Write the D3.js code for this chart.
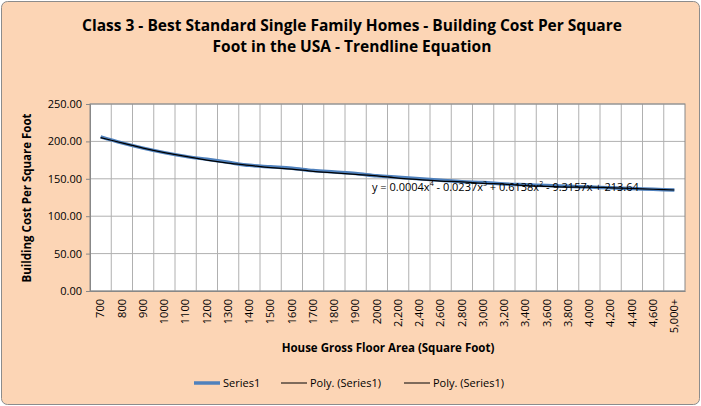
<!DOCTYPE html>
<html><head><meta charset="utf-8">
<script src="https://cdn.jsdelivr.net/npm/d3@7"></script>
<style>body{margin:0;background:#fff}text{font-family:"Open Sans",sans-serif}</style>
</head><body>
<script>
const categories = ["700","800","900","1000","1100","1200","1300","1400","1500","1600","1700","1800","1900","2000",
  "2,200","2,400","2,600","2,800","3,000","3,200","3,400","3,600","3,800","4,000","4,200","4,400","4,600","5,000+"];
const series1 = [206,198,191,185,180,176,172,168,166,164,161,159,157,154,152,150,148,146,145,143,142,141,140,139,138,137,136,135];
const trend = [205,198,191,185,180,175,171,168,165,163,160,158,156,154,151,149,147,146,144,143,141,140,139,139,138,137,136,135];
const yTicks = [0,50,100,150,200,250];

const W = 701, H = 406, m = {l:90, r:685, t:104, b:291};
const svg = d3.select("body").append("svg").attr("width", W).attr("height", H);
svg.append("rect").attr("x",1.5).attr("y",1.5).attr("width",W-3).attr("height",H-3)
  .attr("rx",6).attr("fill","#FCD5B5").attr("stroke","#8c8c8c");

svg.append("text").attr("x",352).attr("y",31).attr("text-anchor","middle")
  .attr("font-size",15.5).attr("font-weight","bold").text("Class 3 - Best Standard Single Family Homes  - Building Cost Per Square");
svg.append("text").attr("x",352).attr("y",52).attr("text-anchor","middle")
  .attr("font-size",15.5).attr("font-weight","bold").text("Foot in the USA - Trendline Equation");

const x = d3.scaleBand().domain(categories).range([m.l, m.r]);
const y = d3.scaleLinear().domain([0,250]).range([m.b, m.t]);

svg.append("rect").attr("x",m.l).attr("y",m.t).attr("width",m.r-m.l).attr("height",m.b-m.t).attr("fill","#fff");
const g = svg.append("g");
categories.forEach((c,i) => {
  if (i > 0) g.append("line").attr("x1",x(c)).attr("x2",x(c)).attr("y1",m.t).attr("y2",m.b).attr("stroke","#b0b0b0");
});
yTicks.forEach(t => g.append("line").attr("x1",m.l).attr("x2",m.r).attr("y1",y(t)).attr("y2",y(t)).attr("stroke","#b0b0b0"));
svg.append("rect").attr("x",m.l).attr("y",m.t).attr("width",m.r-m.l).attr("height",m.b-m.t)
  .attr("fill","none").attr("stroke","#888");

const ya = svg.append("g").attr("transform",`translate(${m.l},0)`)
  .call(d3.axisLeft(y).tickValues(yTicks).tickFormat(d3.format(".2f")).tickSize(4).tickPadding(4));
const xa = svg.append("g").attr("transform",`translate(0,${m.b})`)
  .call(d3.axisBottom(x).tickSize(0).tickPadding(0));
[ya, xa].forEach(a => { a.select(".domain").attr("stroke","#888"); a.selectAll("line").attr("stroke","#888");
  a.selectAll("text").attr("font-size",11).attr("fill","#000").style("font-family","Open Sans"); });
xa.selectAll("text").attr("transform","rotate(-90)").attr("text-anchor","end")
  .attr("x",-8).attr("y",0).attr("dy","0.35em");

const line = d3.line().x((d,i) => x(categories[i]) + x.bandwidth()/2).y(d => y(d)).curve(d3.curveMonotoneX);
svg.append("path").datum(series1).attr("d",line).attr("fill","none").attr("stroke","#4F81BD").attr("stroke-width",3.5);
svg.append("path").datum(trend).attr("d",line).attr("fill","none").attr("stroke","#000").attr("stroke-width",1.2);

const eq = svg.append("text").attr("x",372).attr("y",191).attr("font-size",11);
eq.append("tspan").text("y = 0.0004x");
eq.append("tspan").attr("font-size",7).attr("dy",-5).text("4");
eq.append("tspan").attr("dy",5).text(" - 0.0237x");
eq.append("tspan").attr("font-size",7).attr("dy",-5).text("3");
eq.append("tspan").attr("dy",5).text(" + 0.6138x");
eq.append("tspan").attr("font-size",7).attr("dy",-5).text("2");
eq.append("tspan").attr("dy",5).text(" - 9.3157x + 213.64");

svg.append("text").attr("x",388).attr("y",352).attr("text-anchor","middle").attr("font-size",11.5)
  .attr("font-weight","bold").text("House Gross Floor Area (Square Foot)");
svg.append("text").attr("transform","translate(31,198) rotate(-90)").attr("text-anchor","middle")
  .attr("font-size",11.5).attr("font-weight","bold").text("Building Cost Per Square Foot");

const legend = [{t:"Series1",c:"#4F81BD",w:3.5,x:194},{t:"Poly. (Series1)",c:"#000",w:1,x:281},{t:"Poly. (Series1)",c:"#000",w:1,x:404}];
legend.forEach(d => {
  svg.append("line").attr("x1",d.x).attr("x2",d.x+26).attr("y1",383).attr("y2",383).attr("stroke",d.c).attr("stroke-width",d.w);
  svg.append("text").attr("x",d.x+29).attr("y",387).attr("font-size",11).text(d.t);
});
</script>
</body></html>
